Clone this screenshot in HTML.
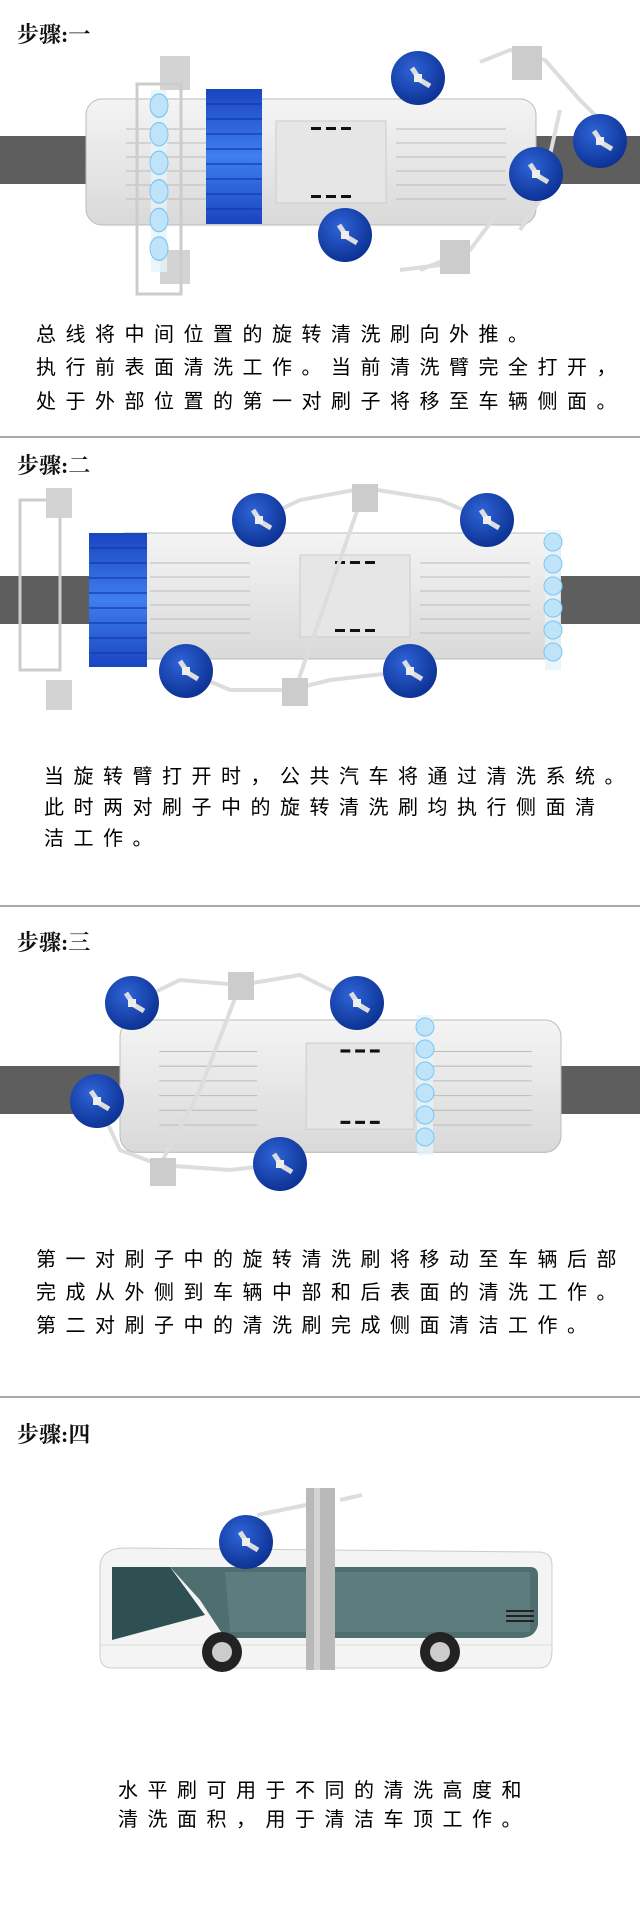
<!DOCTYPE html>
<html><head><meta charset="utf-8"><style>
html,body{margin:0;padding:0;background:#fff;width:640px;height:1920px;overflow:hidden}
svg{display:block}
.t{font-family:"Liberation Serif","Noto Serif CJK SC",serif;font-size:22px;font-weight:bold;fill:#111}
.p{font-family:"Liberation Sans","Noto Sans CJK SC",sans-serif;font-size:20px;fill:#000;letter-spacing:9.5px}
</style></head><body>
<svg width="640" height="1920" viewBox="0 0 640 1920" xmlns="http://www.w3.org/2000/svg">
<defs>
<radialGradient id="bb" cx="40%" cy="35%" r="70%"><stop offset="0" stop-color="#2f64d8"/><stop offset="1" stop-color="#0a2f8f"/></radialGradient>
<linearGradient id="body" x1="0" y1="0" x2="0" y2="1"><stop offset="0" stop-color="#f4f4f4"/><stop offset="1" stop-color="#d9d9d9"/></linearGradient>
<linearGradient id="roll" x1="0" y1="0" x2="0" y2="1"><stop offset="0" stop-color="#1a45c0"/><stop offset=".5" stop-color="#3f7ef0"/><stop offset="1" stop-color="#1a45c0"/></linearGradient>
<g id="circ"><circle r="27" fill="url(#bb)"/><path d="M-6,-10 L2,2 L12,8" stroke="#ddd" stroke-width="5" fill="none"/><rect x="-4" y="-4" width="8" height="8" fill="#eee"/></g>
<g id="lcol"><rect x="-8" y="0" width="16" height="140" fill="#e6f2fb" opacity=".8"/>
<circle cx="0" cy="12" r="9" fill="#bfe3f8" stroke="#7cc6ef"/><circle cx="0" cy="34" r="9" fill="#bfe3f8" stroke="#7cc6ef"/><circle cx="0" cy="56" r="9" fill="#bfe3f8" stroke="#7cc6ef"/><circle cx="0" cy="78" r="9" fill="#bfe3f8" stroke="#7cc6ef"/><circle cx="0" cy="100" r="9" fill="#bfe3f8" stroke="#7cc6ef"/><circle cx="0" cy="122" r="9" fill="#bfe3f8" stroke="#7cc6ef"/></g>
<g id="bus"><rect x="0" y="0" width="450" height="126" rx="16" fill="url(#body)" stroke="#bbb"/>
<rect x="190" y="22" width="110" height="82" fill="#e6e6e6" stroke="#ccc"/>
<g stroke="#bbb"><line x1="40" y1="30" x2="140" y2="30"/><line x1="40" y1="44" x2="140" y2="44"/><line x1="40" y1="58" x2="140" y2="58"/><line x1="40" y1="72" x2="140" y2="72"/><line x1="40" y1="86" x2="140" y2="86"/><line x1="40" y1="100" x2="140" y2="100"/>
<line x1="310" y1="30" x2="420" y2="30"/><line x1="310" y1="44" x2="420" y2="44"/><line x1="310" y1="58" x2="420" y2="58"/><line x1="310" y1="72" x2="420" y2="72"/><line x1="310" y1="86" x2="420" y2="86"/><line x1="310" y1="100" x2="420" y2="100"/></g>
<g fill="#111"><rect x="225" y="28" width="10" height="3"/><rect x="240" y="28" width="10" height="3"/><rect x="255" y="28" width="10" height="3"/><rect x="225" y="96" width="10" height="3"/><rect x="240" y="96" width="10" height="3"/><rect x="255" y="96" width="10" height="3"/></g></g>
</defs>

<!-- Section 1 -->
<text class="t" x="17" y="42">步骤:一</text>
<rect x="0" y="136" width="640" height="48" fill="#5e5e5e"/>
<g transform="translate(86,99)"><use href="#bus"/></g>
<path d="M480,62 L510,50 L545,60 L580,100 L610,130 M560,110 L540,200 L520,230 M470,250 L440,265 L400,270 M420,270 L470,250 L500,210" stroke="#ddd" stroke-width="4" fill="none"/>
<rect x="512" y="46" width="30" height="34" fill="#ccc"/><rect x="440" y="240" width="30" height="34" fill="#ccc"/>
<rect x="160" y="56" width="30" height="34" fill="#d3d3d3"/><rect x="160" y="250" width="30" height="34" fill="#d3d3d3"/>
<rect x="137" y="84" width="44" height="210" fill="none" stroke="#ccc" stroke-width="3"/>
<g transform="translate(159,90) scale(1,1.3)"><use href="#lcol"/></g>
<rect x="206" y="89" width="56" height="135" fill="url(#roll)"/>
<g stroke="#0f3aa8" stroke-width="2" opacity=".6"><line x1="206" y1="104" x2="262" y2="104"/><line x1="206" y1="119" x2="262" y2="119"/><line x1="206" y1="134" x2="262" y2="134"/><line x1="206" y1="149" x2="262" y2="149"/><line x1="206" y1="164" x2="262" y2="164"/><line x1="206" y1="179" x2="262" y2="179"/><line x1="206" y1="194" x2="262" y2="194"/><line x1="206" y1="209" x2="262" y2="209"/></g>
<use href="#circ" x="418" y="78"/><use href="#circ" x="600" y="141"/><use href="#circ" x="536" y="174"/><use href="#circ" x="345" y="235"/>
<text class="p" x="36" y="341">总线将中间位置的旋转清洗刷向外推。</text>
<text class="p" x="36" y="374">执行前表面清洗工作。当前清洗臂完全打开，</text>
<text class="p" x="36" y="408">处于外部位置的第一对刷子将移至车辆侧面。</text>
<rect x="0" y="436" width="640" height="2" fill="#aaa"/>

<!-- Section 2 -->
<text class="t" x="17" y="473">步骤:二</text>
<rect x="0" y="576" width="640" height="48" fill="#5e5e5e"/>
<g transform="translate(110,533)"><use href="#bus"/></g>
<rect x="20" y="500" width="40" height="170" fill="none" stroke="#ccc" stroke-width="3"/>
<rect x="46" y="488" width="26" height="30" fill="#d3d3d3"/><rect x="46" y="680" width="26" height="30" fill="#d3d3d3"/>
<path d="M259,520 L300,500 L365,488 L440,500 L487,520 M186,671 L230,690 L290,690 L330,680 L410,671 M365,488 L340,560 L295,690" stroke="#ddd" stroke-width="4" fill="none"/>
<rect x="352" y="484" width="26" height="28" fill="#ccc"/><rect x="282" y="678" width="26" height="28" fill="#ccc"/>
<rect x="89" y="533" width="58" height="134" fill="url(#roll)"/>
<g stroke="#0f3aa8" stroke-width="2" opacity=".6"><line x1="89" y1="548" x2="147" y2="548"/><line x1="89" y1="563" x2="147" y2="563"/><line x1="89" y1="578" x2="147" y2="578"/><line x1="89" y1="593" x2="147" y2="593"/><line x1="89" y1="608" x2="147" y2="608"/><line x1="89" y1="623" x2="147" y2="623"/><line x1="89" y1="638" x2="147" y2="638"/><line x1="89" y1="653" x2="147" y2="653"/></g>
<g transform="translate(553,530)"><use href="#lcol"/></g>
<use href="#circ" x="259" y="520"/><use href="#circ" x="487" y="520"/><use href="#circ" x="186" y="671"/><use href="#circ" x="410" y="671"/>
<text class="p" x="44" y="783">当旋转臂打开时，公共汽车将通过清洗系统。</text>
<text class="p" x="44" y="814">此时两对刷子中的旋转清洗刷均执行侧面清</text>
<text class="p" x="44" y="845">洁工作。</text>
<rect x="0" y="905" width="640" height="2" fill="#aaa"/>

<!-- Section 3 -->
<text class="t" x="17" y="950">步骤:三</text>
<rect x="0" y="1066" width="640" height="48" fill="#5e5e5e"/>
<g transform="translate(120,1020) scale(0.98,1.05)"><use href="#bus"/></g>
<path d="M132,1003 L180,980 L240,985 L300,975 L357,1003 M97,1101 L120,1150 L160,1165 L230,1170 L280,1164 M240,985 L200,1090 L160,1165" stroke="#ddd" stroke-width="4" fill="none"/>
<rect x="228" y="972" width="26" height="28" fill="#ccc"/><rect x="150" y="1158" width="26" height="28" fill="#ccc"/>
<g transform="translate(425,1015)"><use href="#lcol"/></g>
<use href="#circ" x="132" y="1003"/><use href="#circ" x="357" y="1003"/><use href="#circ" x="97" y="1101"/><use href="#circ" x="280" y="1164"/>
<text class="p" x="36" y="1266">第一对刷子中的旋转清洗刷将移动至车辆后部</text>
<text class="p" x="36" y="1299">完成从外侧到车辆中部和后表面的清洗工作。</text>
<text class="p" x="36" y="1332">第二对刷子中的清洗刷完成侧面清洁工作。</text>
<rect x="0" y="1396" width="640" height="2" fill="#aaa"/>

<!-- Section 4 -->
<text class="t" x="17" y="1442">步骤:四</text>
<path d="M100,1565 Q102,1548 125,1548 L540,1552 Q552,1553 552,1565 L552,1650 Q552,1668 540,1668 L112,1668 Q100,1668 100,1655 Z" fill="#f4f4f4" stroke="#ccc"/>
<path d="M112,1567 L170,1567 L200,1600 L225,1638 L520,1638 Q535,1638 538,1625 L538,1575 Q538,1567 530,1567 L112,1567 Z" fill="#4e6e70"/>
<path d="M112,1567 L170,1567 L205,1615 L112,1640 Z" fill="#2f5052"/>
<path d="M225,1572 L530,1572 L530,1632 L230,1632 Z" fill="#6c8a8b" opacity=".5"/>
<g fill="#222"><rect x="506" y="1610" width="28" height="2"/><rect x="506" y="1615" width="28" height="2"/><rect x="506" y="1620" width="28" height="2"/></g>
<line x1="100" y1="1645" x2="552" y2="1645" stroke="#ddd"/>
<circle cx="222" cy="1652" r="20" fill="#222"/><circle cx="222" cy="1652" r="10" fill="#ccc"/>
<circle cx="440" cy="1652" r="20" fill="#222"/><circle cx="440" cy="1652" r="10" fill="#ccc"/>
<rect x="306" y="1488" width="29" height="182" fill="#b9b9b9"/><rect x="314" y="1488" width="6" height="182" fill="#d4d4d4"/>
<path d="M257,1515 L306,1505 M340,1500 L362,1495" stroke="#ddd" stroke-width="4"/>
<use href="#circ" x="246" y="1542"/>
<text class="p" x="118" y="1797">水平刷可用于不同的清洗高度和</text>
<text class="p" x="118" y="1826">清洗面积，用于清洁车顶工作。</text>
</svg>
</body></html>
